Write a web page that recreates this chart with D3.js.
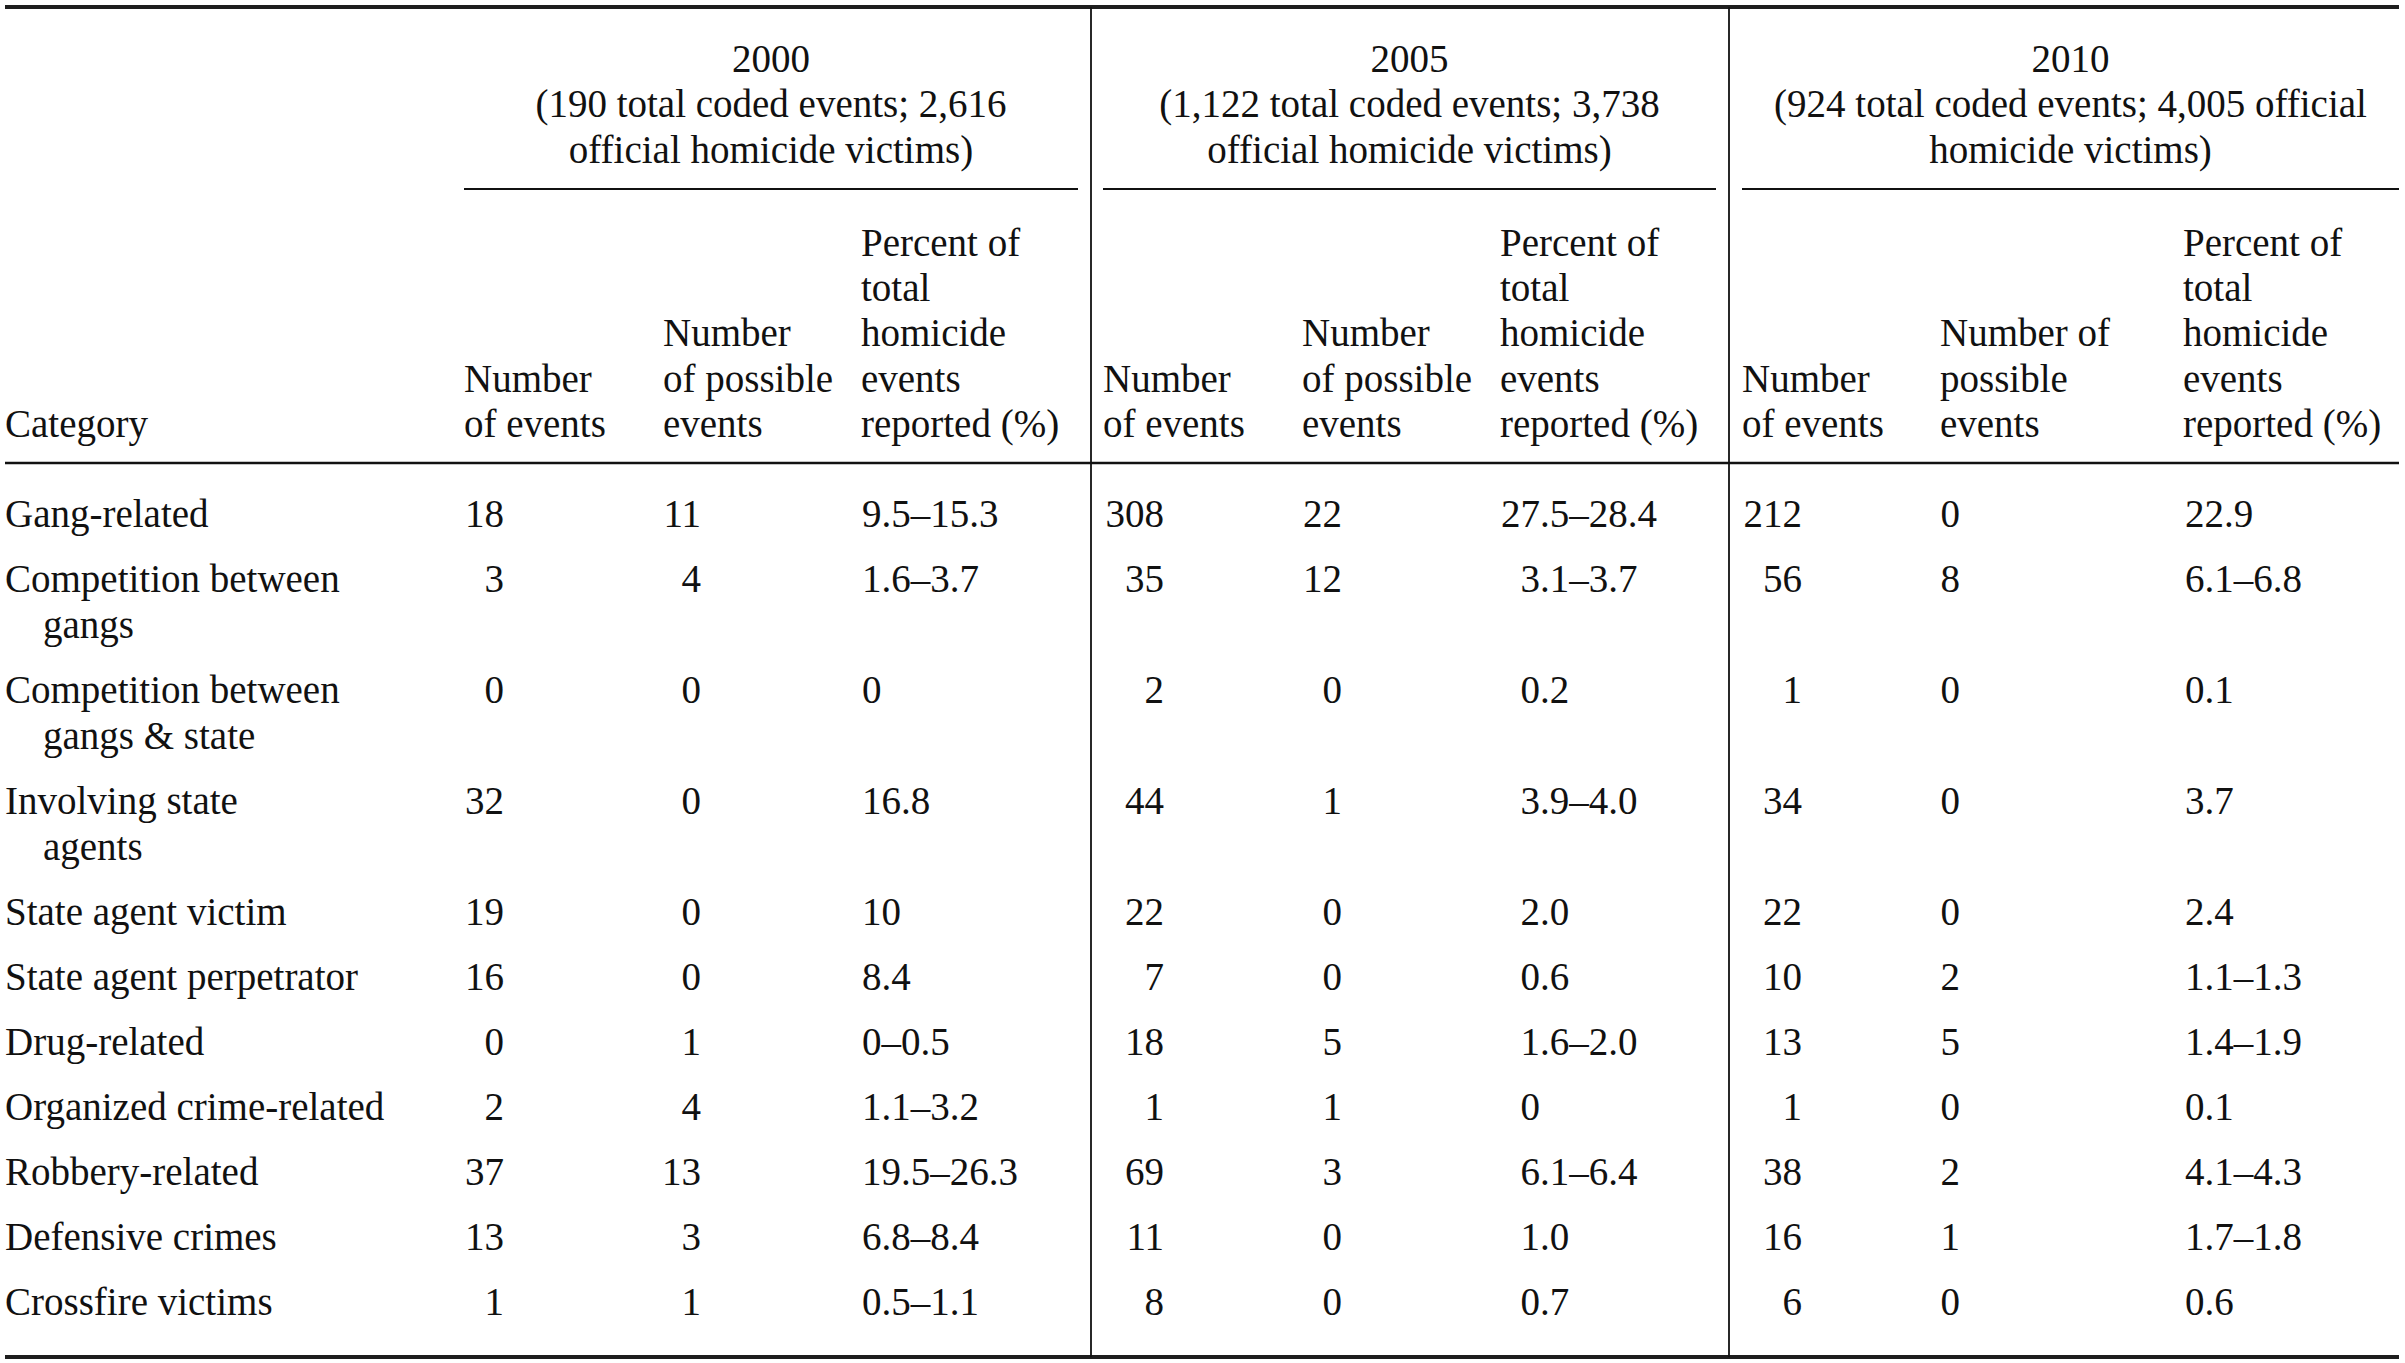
<!DOCTYPE html>
<html>
<head>
<meta charset="utf-8">
<script src="https://cdn.jsdelivr.net/npm/d3@7"></script>
<style>
  body { margin: 0; background: #fff; }
  svg text { font-family: "Liberation Serif", "DejaVu Serif", serif; fill: #111; }
</style>
</head>
<body>
<div id="table_vis"></div>
<script>
// ! Data
var categories = [
  ["Gang-related"],
  ["Competition between", "gangs"],
  ["Competition between", "gangs & state"],
  ["Involving state", "agents"],
  ["State agent victim"],
  ["State agent perpetrator"],
  ["Drug-related"],
  ["Organized crime-related"],
  ["Robbery-related"],
  ["Defensive crimes"],
  ["Crossfire victims"]
];

var years = ["2000", "2005", "2010"];
var year_notes = [
  ["(190 total coded events; 2,616", "official homicide victims)"],
  ["(1,122 total coded events; 3,738", "official homicide victims)"],
  ["(924 total coded events; 4,005 official", "homicide victims)"]
];

var events_2000 = [18, 3, 0, 32, 19, 16, 0, 2, 37, 13, 1];
var possible_2000 = [11, 4, 0, 0, 0, 0, 1, 4, 13, 3, 1];
var percent_2000 = ["9.5–15.3", "1.6–3.7", "0", "16.8", "10", "8.4", "0–0.5", "1.1–3.2", "19.5–26.3", "6.8–8.4", "0.5–1.1"];

var events_2005 = [308, 35, 2, 44, 22, 7, 18, 1, 69, 11, 8];
var possible_2005 = [22, 12, 0, 1, 0, 0, 5, 1, 3, 0, 0];
var percent_2005 = ["27.5–28.4", "3.1–3.7", "0.2", "3.9–4.0", "2.0", "0.6", "1.6–2.0", "0", "6.1–6.4", "1.0", "0.7"];

var events_2010 = [212, 56, 1, 34, 22, 10, 13, 1, 38, 16, 6];
var possible_2010 = [0, 8, 0, 0, 0, 2, 5, 0, 2, 1, 0];
var percent_2010 = ["22.9", "6.1–6.8", "0.1", "3.7", "2.4", "1.1–1.3", "1.4–1.9", "0.1", "4.1–4.3", "1.7–1.8", "0.6"];

var header_category = ["Category"];
var header_events = ["Number", "of events"];
var header_possible = ["Number", "of possible", "events"];
var header_possible_2010 = ["Number of", "possible", "events"];
var header_percent = ["Percent of", "total", "homicide", "events", "reported (%)"];

// ! Layout
var width = 2405, height = 1363;
var font_size = 39, line_h = 46, row_gap = 19;
var left_x = 5, right_x = 2399;
var head_line_h = 45.3;

// columns: key, header left, value anchor, alignment
var columns = [
  { key: "events_2000", values: events_2000, head: header_events, hx: 464, vx: 504, align: "end" },
  { key: "possible_2000", values: possible_2000, head: header_possible, hx: 663, vx: 701, align: "end" },
  { key: "percent_2000", values: percent_2000, head: header_percent, hx: 861, vx: 862, align: "start" },
  { key: "events_2005", values: events_2005, head: header_events, hx: 1103, vx: 1164, align: "end" },
  { key: "possible_2005", values: possible_2005, head: header_possible, hx: 1302, vx: 1342, align: "end" },
  { key: "percent_2005", values: percent_2005, head: header_percent, hx: 1500, vx: 1540, align: "decimal" },
  { key: "events_2010", values: events_2010, head: header_events, hx: 1742, vx: 1802, align: "end" },
  { key: "possible_2010", values: possible_2010, head: header_possible_2010, hx: 1940, vx: 1960, align: "end" },
  { key: "percent_2010", values: percent_2010, head: header_percent, hx: 2183, vx: 2185, align: "start" }
];

var x_head = d3.scaleOrdinal().domain(columns.map(function(c) { return c.key; })).range(columns.map(function(c) { return c.hx; }));
var x_value = d3.scaleOrdinal().domain(columns.map(function(c) { return c.key; })).range(columns.map(function(c) { return c.vx; }));

var group_span = d3.scaleOrdinal().domain(years).range([[464, 1078], [1103, 1716], [1742, right_x]]);
var divider_x = [1091, 1729];

// row baselines from number of lines in each category
var first_baseline = 527;
var row_pitch = categories.map(function(c) { return c.length * line_h + row_gap; });
var row_offsets = [0].concat(Array.from(d3.cumsum(row_pitch)).slice(0, -1));
var y_row = d3.scaleOrdinal().domain(d3.range(categories.length)).range(row_offsets.map(function(o) { return first_baseline + o; }));

var svg = d3.select("#table_vis")
  .append("svg")
  .attr("width", width)
  .attr("height", height)
  .style("display", "block");

svg.append("rect").attr("width", width).attr("height", height).attr("fill", "#fff");

// ! Rules
var top_y = 7, group_rule_y = 189, head_rule_y = 463, bottom_y = 1357;

svg.append("line")
  .attr("x1", left_x).attr("x2", right_x)
  .attr("y1", top_y).attr("y2", top_y)
  .attr("stroke", "#1e1e1e").attr("stroke-width", 4);

svg.append("line")
  .attr("x1", left_x).attr("x2", right_x)
  .attr("y1", bottom_y).attr("y2", bottom_y)
  .attr("stroke", "#1e1e1e").attr("stroke-width", 4);

svg.append("line")
  .attr("x1", left_x).attr("x2", right_x)
  .attr("y1", head_rule_y).attr("y2", head_rule_y)
  .attr("stroke", "#111").attr("stroke-width", 2.4);

svg.selectAll(".group_rule")
  .data(years)
  .enter()
  .append("line")
  .attr("class", "group_rule")
  .attr("x1", function(d) { return group_span(d)[0]; })
  .attr("x2", function(d) { return group_span(d)[1]; })
  .attr("y1", group_rule_y).attr("y2", group_rule_y)
  .attr("stroke", "#111").attr("stroke-width", 2.2);

svg.selectAll(".divider")
  .data(divider_x)
  .enter()
  .append("line")
  .attr("class", "divider")
  .attr("x1", function(d) { return d; }).attr("x2", function(d) { return d; })
  .attr("y1", top_y).attr("y2", bottom_y)
  .attr("stroke", "#111").attr("stroke-width", 1.8);

// ! Year group headings
var year_g = svg.selectAll(".year_head")
  .data(years)
  .enter()
  .append("text")
  .attr("class", "year_head")
  .attr("text-anchor", "middle")
  .style("font-size", font_size + "px");

year_g.selectAll("tspan")
  .data(function(d, i) { return [d].concat(year_notes[i]).map(function(t) { return { t: t, year: d }; }); })
  .enter()
  .append("tspan")
  .attr("x", function(d) { var s = group_span(d.year); return (s[0] + s[1]) / 2; })
  .attr("y", function(d, i) { return 72 + i * head_line_h; })
  .text(function(d) { return d.t; });

// ! Column headings (bottom aligned)
var head_last = 437;

function draw_head(lines, x) {
  svg.append("text")
    .attr("class", "col_head")
    .style("font-size", font_size + "px")
    .selectAll("tspan")
    .data(lines)
    .enter()
    .append("tspan")
    .attr("x", x)
    .attr("y", function(d, i) { return head_last - (lines.length - 1 - i) * head_line_h; })
    .text(function(d) { return d; });
}

draw_head(header_category, left_x);
columns.forEach(function(c) { draw_head(c.head, x_head(c.key)); });

// ! Category labels
var cat_text = svg.selectAll(".cat")
  .data(categories)
  .enter()
  .append("text")
  .attr("class", "cat")
  .style("font-size", font_size + "px");

cat_text.selectAll("tspan")
  .data(function(d, i) { return d.map(function(t, j) { return { t: t, row: i, line: j }; }); })
  .enter()
  .append("tspan")
  .attr("x", function(d) { return d.line === 0 ? left_x : left_x + 38; })
  .attr("y", function(d) { return y_row(d.row) + d.line * (line_h - 0.5); })
  .text(function(d) { return d.t; });

// ! Values
// measuring helper for the decimal aligned column
var measure = svg.append("text").style("font-size", font_size + "px").attr("visibility", "hidden");
function lead_width(s) {
  var m = String(s).match(/^\d+/);
  measure.text(m ? m[0] : "");
  var w = measure.node().getComputedTextLength();
  measure.text("0");
  return w - measure.node().getComputedTextLength();
}

columns.forEach(function(c) {
  svg.selectAll(".val_" + c.key)
    .data(c.values)
    .enter()
    .append("text")
    .attr("class", "val_" + c.key)
    .style("font-size", font_size + "px")
    .attr("text-anchor", c.align === "end" ? "end" : "start")
    .attr("x", function(d) {
      if (c.align === "decimal") return x_value(c.key) - 19.5 - lead_width(d);
      return x_value(c.key);
    })
    .attr("y", function(d, i) { return y_row(i); })
    .text(function(d) { return d; });
});

measure.remove();
</script>
</body>
</html>
